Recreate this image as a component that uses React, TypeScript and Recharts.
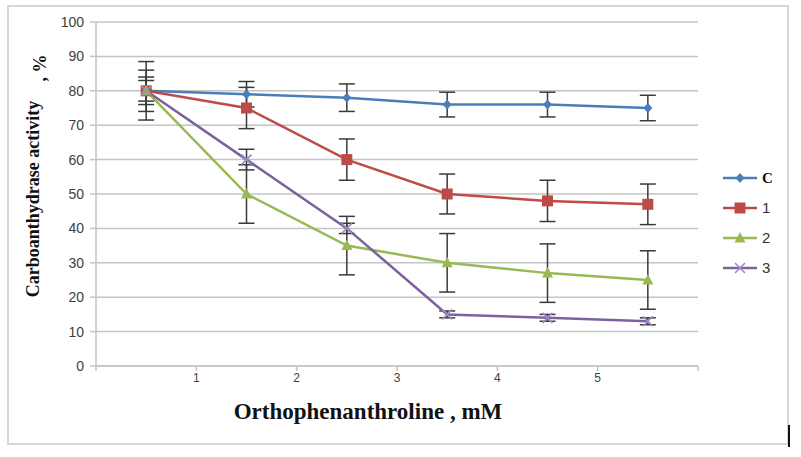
import React from 'react'
import { LineChart, Line, XAxis, YAxis, CartesianGrid, ErrorBar } from 'recharts'

// dose positions (category centres) and axis ticks
const doses = [0.5, 1.5, 2.5, 3.5, 4.5, 5.5]
const xTicks = [0, 1, 2, 3, 4, 5, 6]
const yTicks = [0, 10, 20, 30, 40, 50, 60, 70, 80, 90, 100]

// activity, % (mean and +/- error)
const control = [80, 79, 78, 76, 76, 75]
const controlErr = [4, 3.7, 4, 3.6, 3.6, 3.7]
const series1 = [80, 75, 60, 50, 48, 47]
const series1Err = [6, 6, 6, 5.8, 6, 5.9]
const series2 = [80, 50, 35, 30, 27, 25]
const series2Err = [8.5, 8.5, 8.5, 8.5, 8.5, 8.5]
const series3 = [80, 60, 40, 15, 14, 13]
const series3Err = [3, 3, 1.5, 1, 1, 1]

const legendNames = ['C', '1', '2', '3']

const BLUE = '#4a7ebb'
const RED = '#be4b48'
const GREEN = '#98b954'
const PURPLE = '#7d60a0'
const ERR = '#3a3a3a'
const GRID = '#c4c4c4'
const TICK = '#404040'

const data = doses.map((x, i) => ({
  x,
  c: control[i], cErr: controlErr[i],
  s1: series1[i], s1Err: series1Err[i],
  s2: series2[i], s2Err: series2Err[i],
  s3: series3[i], s3Err: series3Err[i],
}))

const Diamond = ({ cx, cy }: any) =>
  cx == null ? null : <path d={`M${cx},${cy - 5}L${cx + 4.5},${cy}L${cx},${cy + 5}L${cx - 4.5},${cy}Z`} fill={BLUE} />
const Square = ({ cx, cy }: any) =>
  cx == null ? null : <rect x={cx - 5.5} y={cy - 5.5} width={11} height={11} fill={RED} />
const Triangle = ({ cx, cy }: any) =>
  cx == null ? null : <path d={`M${cx},${cy - 6}L${cx + 5.5},${cy + 4.5}L${cx - 5.5},${cy + 4.5}Z`} fill={GREEN} />
const Cross = ({ cx, cy }: any) =>
  cx == null ? null : (
    <path d={`M${cx - 5},${cy - 5}L${cx + 5},${cy + 5}M${cx + 5},${cy - 5}L${cx - 5},${cy + 5}`} stroke="#9d8cc4" strokeWidth={1.6} />
  )

const markers = [Diamond, Square, Triangle, Cross]
const colors = [BLUE, RED, GREEN, PURPLE]

function LegendBox() {
  return (
    <svg width={80} height={110} style={{ position: 'absolute', left: 718, top: 168 }}>
      {legendNames.map((name, i) => {
        const y = 10 + i * 30
        const M = markers[i]
        return (
          <g key={name}>
            <line x1={5} x2={39} y1={y} y2={y} stroke={colors[i]} strokeWidth={2.5} />
            <M cx={22} cy={y} />
            <text
              x={44}
              y={y + 5}
              fontSize={15}
              fontWeight={i === 0 ? 'bold' : 'normal'}
              fontFamily={i === 0 ? '"Liberation Serif", serif' : '"Liberation Sans", sans-serif'}
              fill={i === 0 ? '#111' : '#333'}
            >
              {name}
            </text>
          </g>
        )
      })}
    </svg>
  )
}

const yLabel = () => (
  <g fontFamily='"Liberation Serif", serif' fontWeight="bold" fontSize={18} fill="#111">
    <text x={39} y={199} textAnchor="middle" transform="rotate(-90 39 199)">Carboanthydrase activity</text>
    <text x={46} y={68} textAnchor="middle" transform="rotate(-90 46 68)">, %</text>
  </g>
)

const xLabel = () => (
  <text x={368} y={419} textAnchor="middle" fontFamily='"Liberation Serif", serif' fontWeight="bold" fontSize={23} fill="#111">
    Orthophenanthroline , mM
  </text>
)

export default function App() {
  return (
    <div style={{ position: 'absolute', left: 0, top: 0, width: 801, height: 457, background: '#fff' }}>
      <div style={{ position: 'absolute', left: 7, top: 5, width: 778, height: 436, border: '2px solid #d6d6d6' }} />
      <div style={{ position: 'absolute', left: 788, top: 425, width: 2, height: 22, background: '#111' }} />
      <div style={{ position: 'absolute', left: 0, top: 0 }}>
        <LineChart width={801} height={457} data={data} margin={{ top: 22, right: 103, left: 50, bottom: 61 }}>
          <CartesianGrid horizontal vertical={false} stroke={GRID} strokeWidth={1.5} />
          <XAxis
            type="number"
            dataKey="x"
            domain={[0, 6]}
            ticks={xTicks}
            tickFormatter={(v) => (v === 0 || v === 6 ? '' : String(v))}
            stroke={GRID}
            strokeWidth={1.5}
            tickSize={5}
            tick={{ fontSize: 12, fill: TICK, fontFamily: '"Liberation Sans", sans-serif' }}
            height={30}
            label={{ content: xLabel }}
          />
          <YAxis
            type="number"
            domain={[0, 100]}
            ticks={yTicks}
            stroke={GRID}
            strokeWidth={1.5}
            tickSize={6}
            tickMargin={6}
            width={46}
            tick={{ fontSize: 14, fill: TICK, fontFamily: '"Liberation Sans", sans-serif' }}
            label={{ content: yLabel }}
          />
          <Line dataKey="c" stroke={BLUE} strokeWidth={2.5} dot={<Diamond />} activeDot={false} isAnimationActive={false}>
            <ErrorBar dataKey="cErr" width={8} stroke={ERR} strokeWidth={1.5} />
          </Line>
          <Line dataKey="s1" stroke={RED} strokeWidth={2.5} dot={<Square />} activeDot={false} isAnimationActive={false}>
            <ErrorBar dataKey="s1Err" width={8} stroke={ERR} strokeWidth={1.5} />
          </Line>
          <Line dataKey="s2" stroke={GREEN} strokeWidth={2.5} dot={<Triangle />} activeDot={false} isAnimationActive={false}>
            <ErrorBar dataKey="s2Err" width={8} stroke={ERR} strokeWidth={1.5} />
          </Line>
          <Line dataKey="s3" stroke={PURPLE} strokeWidth={2.5} dot={<Cross />} activeDot={false} isAnimationActive={false}>
            <ErrorBar dataKey="s3Err" width={8} stroke={ERR} strokeWidth={1.5} />
          </Line>
        </LineChart>
      </div>
      <LegendBox />
    </div>
  )
}
